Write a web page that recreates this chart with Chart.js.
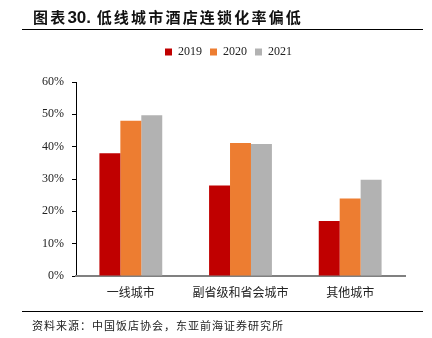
<!DOCTYPE html>
<html><head><meta charset="utf-8">
<script src="https://cdn.jsdelivr.net/npm/chart.js@4/dist/chart.umd.min.js"></script>
<style>
html,body{margin:0;padding:0;background:#fff;}
#wrap{position:relative;width:432px;height:338px;overflow:hidden;}
#title{position:absolute;left:33px;top:6px;font-family:"Noto Sans CJK SC";font-weight:bold;font-size:15px;letter-spacing:2.2px;color:#111;white-space:nowrap;}
#title .n{font-family:"Liberation Sans";font-weight:bold;font-size:17px;letter-spacing:0;}
.rule{position:absolute;left:22px;width:401px;height:1.5px;background:#000;}
#src{position:absolute;left:32px;top:317px;font-family:"Noto Sans CJK SC";font-size:11px;letter-spacing:1px;color:#222;white-space:nowrap;}
#c{position:absolute;left:0;top:0;}
</style></head><body>
<div id="wrap">
<canvas id="c" width="432" height="338"></canvas>
<div id="title">图表<span class="n">30.</span> 低线城市酒店连锁化率偏低</div>
<div class="rule" style="top:28.5px"></div>
<div class="rule" style="top:310.5px"></div>
<div id="src">资料来源：中国饭店协会，东亚前海证券研究所</div>
</div>
<script>
const categories = ["一线城市", "副省级和省会城市", "其他城市"];
const seriesNames = ["2019", "2020", "2021"];
const v2019 = [38.0, 28.0, 17.0];
const v2020 = [48.0, 41.1, 24.0];
const v2021 = [49.7, 40.8, 29.8];
const yTicks = [0, 10, 20, 30, 40, 50, 60];
const colors = ["#C00000", "#ED7D31", "#B2B2B2"];

const ds = [v2019, v2020, v2021].map((d, i) => ({
  label: seriesNames[i], data: d, backgroundColor: colors[i],
  categoryPercentage: 0.573, barPercentage: 1.0, borderWidth: 0
}));

const legendTweak = {
  id: 'legendTweak',
  afterInit(chart) {
    const lg = chart.legend;
    if (lg && !lg._tweaked) {
      const f = lg.fit;
      lg.fit = function () { f.call(this); this.height += 14; };
      lg._tweaked = true;
    }
  },
  afterLayout(chart) {
    const lg = chart.legend;
    if (lg) { lg.left += 26; lg.right += 26; }
  }
};

new Chart(document.getElementById('c'), {
  type: 'bar',
  data: { labels: categories, datasets: ds },
  plugins: [legendTweak],
  options: {
    responsive: false, animation: false, devicePixelRatio: 1,
    layout: { padding: { left: 0, right: 27, top: 38, bottom: 28 } },
    plugins: {
      tooltip: { enabled: false },
      legend: {
        position: 'top',
        labels: {
          boxWidth: 7, boxHeight: 7, padding: 8, color: '#222',
          font: { family: 'Liberation Serif', size: 12 }
        }
      }
    },
    scales: {
      y: {
        min: 0, max: 60,
        afterBuildTicks: s => { s.ticks = yTicks.map(v => ({ value: v })); },
        afterFit: s => { s.width = 76; },
        ticks: { callback: v => v + '%', color: '#222', padding: 8,
          font: { family: 'Liberation Serif', size: 12 } },
        grid: { display: true, drawOnChartArea: false, drawTicks: true, tickLength: 4, color: '#000' },
        border: { display: true, color: '#000', width: 1 }
      },
      x: {
        afterFit: s => { s.height = 34; },
        ticks: { color: '#222', padding: 1,
          font: { family: 'Noto Sans CJK SC', size: 12 } },
        grid: { display: false },
        border: { display: true, color: '#808080', width: 2 }
      }
    }
  }
});
</script>
</body></html>
